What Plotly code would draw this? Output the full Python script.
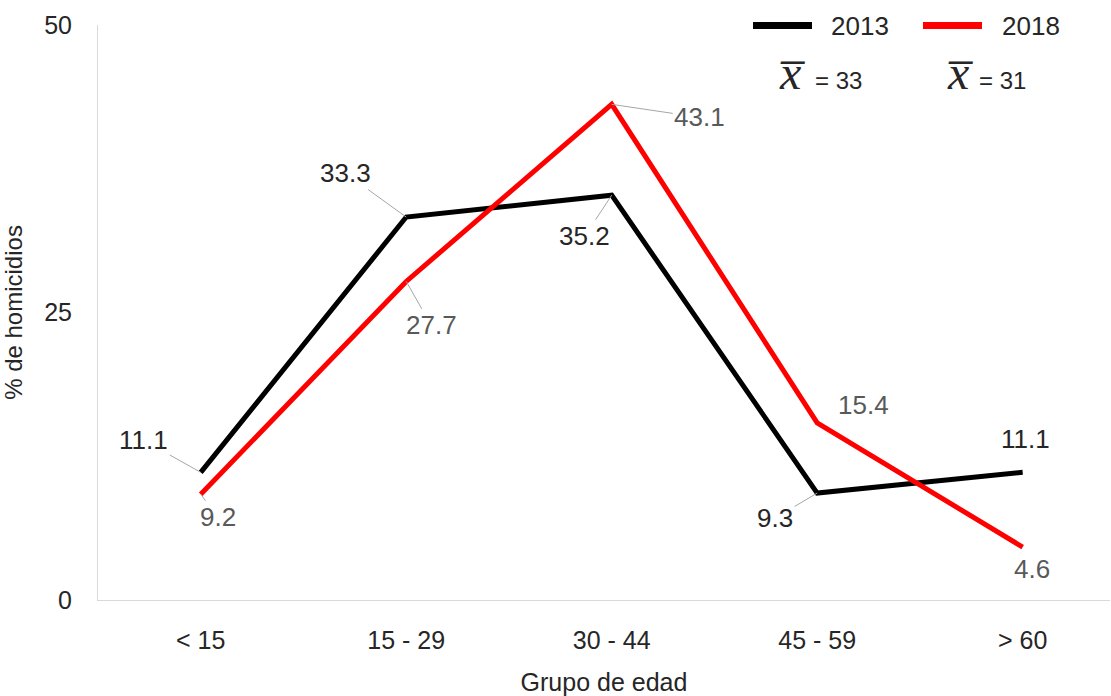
import plotly.graph_objects as go

categories = ["< 15", "15 - 29", "30 - 44", "45 - 59", "> 60"]
values_2013 = [11.1, 33.3, 35.2, 9.3, 11.1]
values_2018 = [9.2, 27.7, 43.1, 15.4, 4.6]
mean_2013 = 33
mean_2018 = 31
y_ticks = [0, 25, 50]

# label offsets in pixels (text centre relative to point) and leader flags
off_2013 = [(-57, -32, True), (-61, -44, True), (-27, 41, True), (-42, 25, True), (3, -33, False)]
off_2018 = [(17, 23, True), (25, 44, True), (88, 13, True), (46, -18, False), (9, 22, False)]

FONT = "Liberation Sans, Arial, sans-serif"
SERIF = "Liberation Serif, Times New Roman, serif"

fig = go.Figure()
fig.add_trace(go.Scatter(x=categories, y=values_2013, mode="lines", name="2013",
                         line=dict(color="#000000", width=5), showlegend=False))
fig.add_trace(go.Scatter(x=categories, y=values_2018, mode="lines", name="2018",
                         line=dict(color="#ff0000", width=5), showlegend=False))

annotations = []
for vals, offs, col in ((values_2013, off_2013, "#262626"), (values_2018, off_2018, "#595959")):
    for c, v, (dx, dy, lead) in zip(categories, vals, offs):
        if lead:
            annotations.append(dict(x=c, y=v, xref="x", yref="y", text=f"{v:.1f}",
                                    showarrow=True, ax=dx, ay=dy, arrowhead=0, arrowwidth=1,
                                    arrowcolor="#a6a6a6", standoff=0, startstandoff=0,
                                    font=dict(family=FONT, size=26, color=col)))
        else:
            annotations.append(dict(x=c, y=v, xref="x", yref="y", text=f"{v:.1f}",
                                    showarrow=False, xshift=dx, yshift=-dy,
                                    font=dict(family=FONT, size=26, color=col)))

# legend (custom)
def px(xp):
    return (xp - 98) / 1012

def py(yp):
    return (600 - yp) / 575

shapes = [
    dict(type="line", xref="paper", yref="paper", x0=px(753), x1=px(812), y0=py(25.5), y1=py(25.5),
         line=dict(color="#000000", width=7)),
    dict(type="line", xref="paper", yref="paper", x0=px(923), x1=px(982), y0=py(25.5), y1=py(25.5),
         line=dict(color="#ff0000", width=7)),
]
for xx, t in ((829, "2013"), (1000, "2018")):
    annotations.append(dict(x=px(xx), y=py(26), xref="paper", yref="paper", text=t,
                            showarrow=False, xanchor="left", yanchor="middle",
                            font=dict(family=FONT, size=26, color="#262626")))
for xc, xl, m in ((792, 813, mean_2013), (960, 977, mean_2018)):
    annotations.append(dict(x=px(xc), y=py(72), xref="paper", yref="paper", text="<i>x\u0305</i>",
                            showarrow=False, xanchor="center", yanchor="middle",
                            font=dict(family=SERIF, size=48, color="#262626")))
    annotations.append(dict(x=px(xl), y=py(80), xref="paper", yref="paper", text=f"= {m}",
                            showarrow=False, xanchor="left", yanchor="middle",
                            font=dict(family=FONT, size=24, color="#262626")))

fig.update_layout(
    width=1111, height=696,
    margin=dict(l=98, r=1, t=25, b=96),
    paper_bgcolor="white", plot_bgcolor="white",
    annotations=annotations, shapes=shapes,
    font=dict(family=FONT, color="#262626"),
)
fig.update_xaxes(range=[-0.5, 4.425], showgrid=False, showline=True, linecolor="#d9d9d9", linewidth=1,
                 ticks="outside", ticklen=18, tickcolor="rgba(0,0,0,0)",
                 tickfont=dict(family=FONT, size=25, color="#262626"),
                 title=dict(text="Grupo de edad", font=dict(family=FONT, size=25, color="#262626"), standoff=22),
                 zeroline=False)
fig.update_yaxes(range=[0, 50], tickvals=y_ticks, showgrid=False, showline=True, linecolor="#d9d9d9",
                 linewidth=1, ticks="outside", ticklen=20, tickcolor="rgba(0,0,0,0)",
                 tickfont=dict(family=FONT, size=25, color="#262626"),
                 title=dict(text="% de homicidios", font=dict(family=FONT, size=24, color="#262626"), standoff=24),
                 zeroline=False)

fig.write_html("out.html")
